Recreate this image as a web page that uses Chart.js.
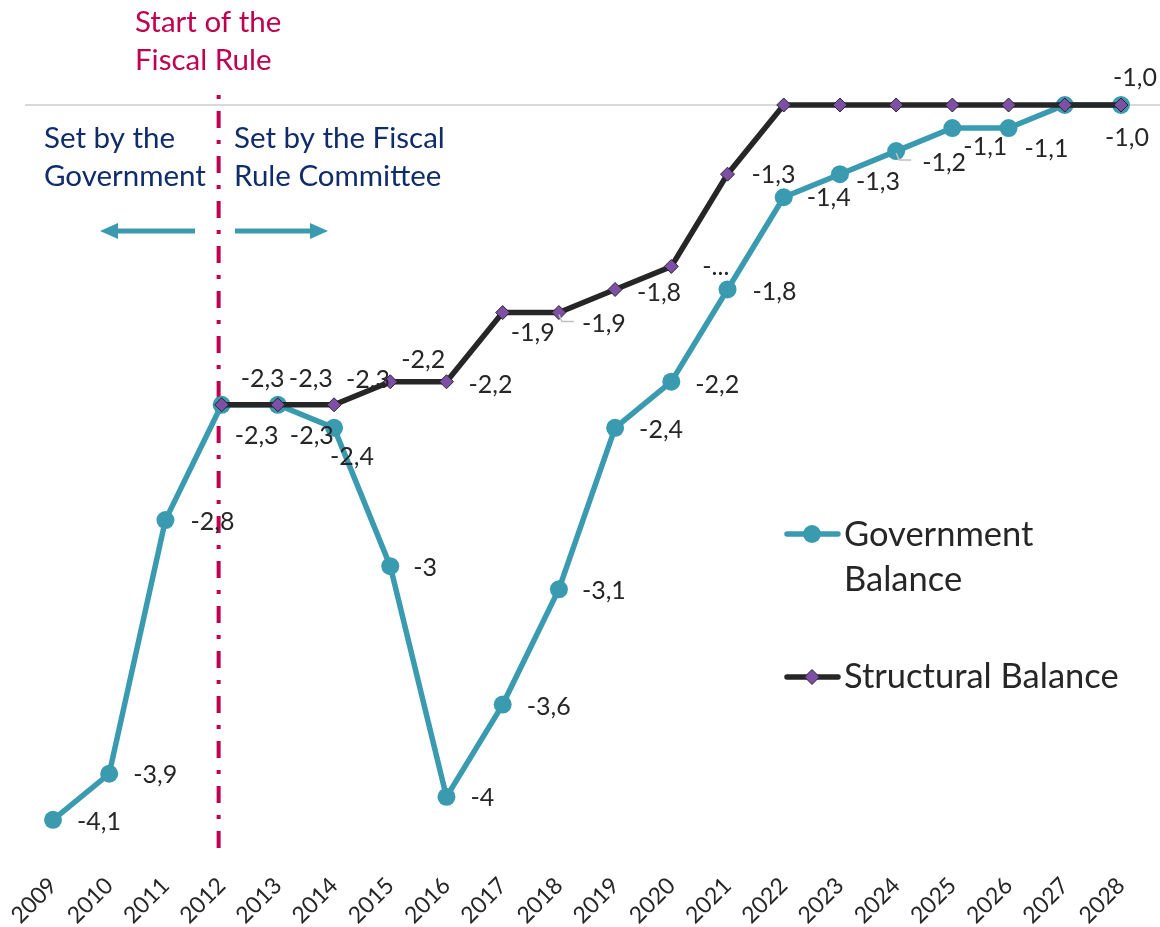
<!DOCTYPE html>
<html lang="en">
<head>
<meta charset="UTF-8">
<title>Government and Structural Balance</title>
<script src="https://cdn.jsdelivr.net/npm/chart.js"></script>
<style>
  html, body { margin: 0; padding: 0; background: #fff; }
</style>
</head>
<body>
<canvas id="balance-chart" width="1160" height="927"></canvas>
<script>
// chart data
const years = ['2009', '2010', '2011', '2012', '2013', '2014', '2015', '2016', '2017', '2018',
               '2019', '2020', '2021', '2022', '2023', '2024', '2025', '2026', '2027', '2028'];
const governmentBalance = [-4.1, -3.9, -2.8, -2.3, -2.3, -2.4, -3.0, -4.0, -3.6, -3.1,
                           -2.4, -2.2, -1.8, -1.4, -1.3, -1.2, -1.1, -1.1, -1.0, -1.0];
const structuralBalance = [null, null, null, -2.3, -2.3, -2.3, -2.2, -2.2, -1.9, -1.9,
                           -1.8, -1.7, -1.3, -1.0, -1.0, -1.0, -1.0, -1.0, -1.0, -1.0];
// data label texts as printed on the chart (null = no label)
const governmentLabels = ['-4,1', '-3,9', '-2,8', '-2,3', '-2,3', '-2,4', '-3', '-4', '-3,6', '-3,1',
                          '-2,4', '-2,2', '-1,8', '-1,4', '-1,3', '-1,2', '-1,1', '-1,1', null, '-1,0'];
const structuralLabels = [null, null, null, '-2,3', '-2,3', '-2,3', '-2,2', '-2,2', '-1,9', '-1,9',
                          '-1,8', '-...', '-1,3', null, null, null, null, null, null, '-1,0'];

// label placement (dx to left edge, dy to middle) relative to each point
const governmentLabelOffsets = [[24, 2], [24, 1], [25, 2], [13, 31], [12, 31], [-4, 29], [23, 2], [24, 1], [24, 2], [23, 2],
                                [24, 2], [24, 3], [25, 2], [23, 1], [16, 8], [26, 12], [11, 19], [16, 21], null, [-16, 33]];
const structuralLabelOffsets = [null, null, null, [19, -26], [11, -26], [12, -25], [11, -22], [22, 3], [8, 20], [23, 11],
                                [22, 3], [31, 1], [24, 1], null, null, null, null, null, null, [-8, -27]];

const TEAL = '#3A9BB0';
const DARK = '#262626';
const PURPLE = '#7E4FA6';
const CRIMSON = '#C0004F';
const NAVY = '#0F2C6B';
const FONT = 'Lato';

const overlay = {
  id: 'overlay',
  beforeDatasetsDraw(chart) {
    const { ctx, scales: { x } } = chart;
    ctx.save();
    // single gridline at the top (-1)
    const yTop = chart.scales.y.getPixelForValue(-1);
    ctx.strokeStyle = '#D9D9D9';
    ctx.lineWidth = 2;
    ctx.beginPath();
    ctx.moveTo(25, yTop);
    ctx.lineTo(1160, yTop);
    ctx.stroke();
    // start of the fiscal rule marker
    const xr = x.getPixelForValue(3) - 3;
    ctx.strokeStyle = CRIMSON;
    ctx.lineWidth = 4;
    ctx.setLineDash([4, 12, 17, 12]);
    ctx.beginPath();
    ctx.moveTo(xr, 95);
    ctx.lineTo(xr, chart.chartArea.bottom);
    ctx.stroke();
    ctx.restore();
  },
  afterDatasetsDraw(chart) {
    const { ctx } = chart;
    ctx.save();

    // data labels
    ctx.font = `25px ${FONT}`;
    ctx.fillStyle = DARK;
    ctx.textAlign = 'left';
    ctx.textBaseline = 'middle';
    const drawLabels = (dsIndex, texts, offsets) => {
      const meta = chart.getDatasetMeta(dsIndex);
      meta.data.forEach((pt, i) => {
        if (!texts[i] || !offsets[i]) return;
        ctx.fillText(texts[i], pt.x + offsets[i][0], pt.y + offsets[i][1]);
      });
    };
    drawLabels(0, structuralLabels, structuralLabelOffsets);
    drawLabels(1, governmentLabels, governmentLabelOffsets);

    // leader lines
    ctx.strokeStyle = '#BFBFBF';
    ctx.lineWidth = 1.5;
    const leader = (dsIndex, i) => {
      const pt = chart.getDatasetMeta(dsIndex).data[i];
      ctx.beginPath();
      ctx.moveTo(pt.x, pt.y + 2);
      ctx.lineTo(pt.x + 3, pt.y + 9);
      ctx.lineTo(pt.x + 15, pt.y + 9);
      ctx.stroke();
    };
    leader(0, 9);
    leader(1, 15);

    // legend
    const legendItem = (y, color, marker) => {
      ctx.strokeStyle = color;
      ctx.lineWidth = 5.5;
      ctx.lineCap = 'round';
      ctx.beginPath();
      ctx.moveTo(787, y);
      ctx.lineTo(838, y);
      ctx.stroke();
      ctx.lineCap = 'butt';
      marker(812, y);
    };
    legendItem(534, TEAL, (cx, cy) => {
      ctx.fillStyle = TEAL;
      ctx.beginPath();
      ctx.arc(cx, cy, 9, 0, Math.PI * 2);
      ctx.fill();
    });
    legendItem(677, DARK, (cx, cy) => {
      ctx.fillStyle = PURPLE;
      ctx.strokeStyle = DARK;
      ctx.lineWidth = 1;
      ctx.beginPath();
      ctx.moveTo(cx, cy - 7.5);
      ctx.lineTo(cx + 7.5, cy);
      ctx.lineTo(cx, cy + 7.5);
      ctx.lineTo(cx - 7.5, cy);
      ctx.closePath();
      ctx.fill();
      ctx.stroke();
    });
    ctx.font = `34.5px ${FONT}`;
    ctx.fillStyle = DARK;
    ctx.textBaseline = 'alphabetic';
    ctx.fillText('Government', 844, 546);
    ctx.fillText('Balance', 844, 591);
    ctx.fillText('Structural Balance', 844, 688);

    // annotations
    ctx.font = `29.5px ${FONT}`;
    ctx.fillStyle = CRIMSON;
    ctx.fillText('Start of the', 135, 32);
    ctx.fillText('Fiscal Rule', 135, 70);
    ctx.fillStyle = NAVY;
    ctx.fillText('Set by the', 44, 148);
    ctx.fillText('Government', 44, 186);
    ctx.fillText('Set by the Fiscal', 234, 148);
    ctx.fillText('Rule Committee', 234, 186);

    // arrows
    const arrow = (x0, x1, y) => {
      const dir = Math.sign(x1 - x0);
      ctx.strokeStyle = TEAL;
      ctx.fillStyle = TEAL;
      ctx.lineWidth = 5;
      ctx.beginPath();
      ctx.moveTo(x0, y);
      ctx.lineTo(x1 - dir * 14, y);
      ctx.stroke();
      ctx.beginPath();
      ctx.moveTo(x1, y);
      ctx.lineTo(x1 - dir * 18, y - 8);
      ctx.lineTo(x1 - dir * 18, y + 8);
      ctx.closePath();
      ctx.fill();
    };
    arrow(195, 100, 231);
    arrow(235, 328, 231);

    ctx.restore();
  }
};

const ctx = document.getElementById('balance-chart').getContext('2d');
new Chart(ctx, {
  type: 'line',
  data: {
    labels: years,
    datasets: [
      {
        label: 'Structural Balance',
        data: structuralBalance,
        borderColor: DARK,
        borderWidth: 5.5,
        pointStyle: 'rectRot',
        pointRadius: 7,
        pointBackgroundColor: PURPLE,
        pointBorderColor: DARK,
        pointBorderWidth: 1,
        order: 0,
        clip: false
      },
      {
        label: 'Government Balance',
        data: governmentBalance,
        borderColor: TEAL,
        borderWidth: 5.5,
        pointStyle: 'circle',
        pointRadius: 9,
        pointBackgroundColor: TEAL,
        pointBorderColor: TEAL,
        pointBorderWidth: 0,
        order: 1,
        clip: false
      }
    ]
  },
  options: {
    responsive: false,
    animation: false,
    layout: { padding: { top: 105, left: 53, right: 39, bottom: 0 } },
    plugins: {
      legend: { display: false },
      tooltip: { enabled: false }
    },
    scales: {
      x: {
        offset: false,
        grid: { display: false },
        border: { display: false },
        ticks: {
          color: DARK,
          font: { family: FONT, size: 23 },
          minRotation: 45,
          maxRotation: 45,
          autoSkip: false,
          padding: 4
        },
        afterFit(scale) { scale.height = 67; }
      },
      y: {
        display: false,
        min: -4.274,
        max: -1
      }
    }
  },
  plugins: [overlay]
});
</script>
</body>
</html>
